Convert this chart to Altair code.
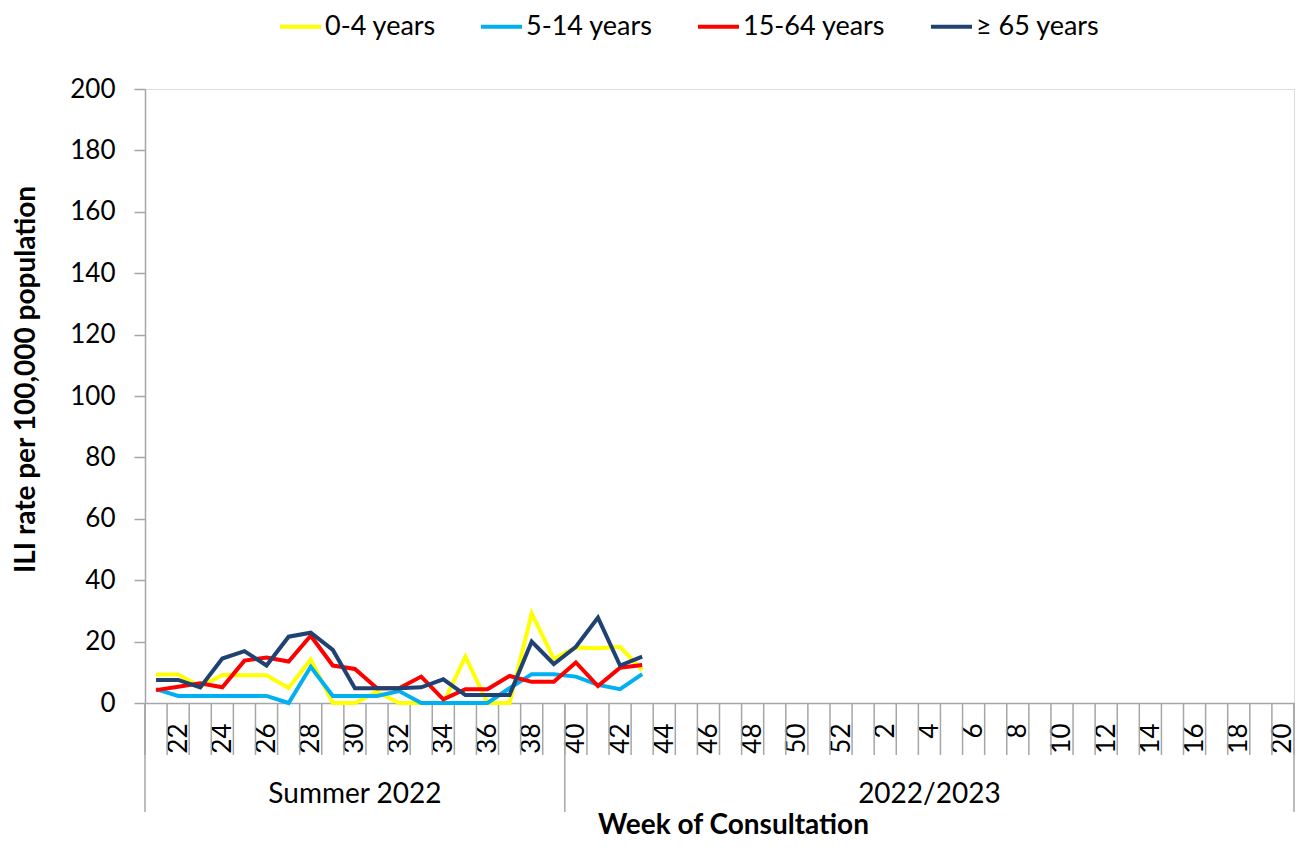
import altair as alt
import pandas as pd

weeks = list(range(21, 53)) + list(range(1, 21))
groups = ["Summer 2022", "2022/2023"]
group_bounds = [0, 19, 52]

series_names = ["0-4 years", "5-14 years", "15-64 years", "\u2265 65 years"]
colors = ["#FFFF00", "#00B0F0", "#FF0000", "#1F4272"]

# values from week 21 to week 43
v_0_4 = [9.3, 9.3, 5.3, 9.1, 9.0, 9.0, 4.9, 14.2, 0.0, 0.0, 3.7, 0.0, 0.0, 0.0, 15.1, 0.0, 0.0, 29.2, 14.4, 18.1, 17.8, 18.3, 10.7]
v_5_14 = [4.5, 2.3, 2.3, 2.3, 2.3, 2.3, 0.0, 11.8, 2.3, 2.3, 2.3, 3.9, 0.0, 0.0, 0.0, 0.0, 4.8, 9.4, 9.4, 8.6, 5.9, 4.5, 9.4]
v_15_64 = [4.2, 5.3, 6.4, 5.1, 13.8, 14.8, 13.5, 21.9, 12.2, 11.1, 4.8, 4.8, 8.6, 1.2, 4.5, 4.5, 8.8, 6.9, 6.9, 13.2, 5.5, 11.5, 12.4]
v_65 = [7.5, 7.5, 5.1, 14.5, 16.9, 12.2, 21.6, 22.9, 17.3, 4.8, 4.8, 4.8, 5.1, 7.7, 2.6, 2.6, 2.6, 20.0, 12.7, 18.3, 27.8, 12.2, 15.1]

FONT = "Lato"
W, H = 1149, 614
GRAY = "#A6A6A6"

rows = []
for name, vals in zip(series_names, [v_0_4, v_5_14, v_15_64, v_65]):
    for i, v in enumerate(vals):
        rows.append({"pos": i + 0.5, "week": weeks[i], "value": v, "series": name})
df = pd.DataFrame(rows)

label_vals = [i + 0.5 for i, w in enumerate(weeks) if w % 2 == 0]
label_map = ",".join("'%s':'%d'" % (repr(i + 0.5), w) for i, w in enumerate(weeks) if w % 2 == 0)
label_expr = "{" + label_map + "}[''+datum.value]"

xscale = alt.Scale(domain=[0, len(weeks)], nice=False, zero=False)

lines = alt.Chart(df).mark_line(strokeWidth=4, strokeJoin="miter").encode(
    x=alt.X("pos:Q", scale=xscale,
            axis=alt.Axis(values=label_vals, labelExpr=label_expr, labelAngle=270,
                          labelFontSize=26, labelFont=FONT, labelColor="#000000",
                          labelPadding=20, ticks=False, grid=False, domainColor=GRAY,
                          domainWidth=1.5, labelOverlap=False,
                          title="Week of Consultation", titleFont=FONT, titleFontSize=28,
                          titleFontWeight="bold", titleColor="#000000", titleY=122,
                          titleX=588, titleAlign="center", titleBaseline="middle")),
    y=alt.Y("value:Q", scale=alt.Scale(domain=[0, 200], nice=False),
            axis=alt.Axis(values=list(range(0, 201, 20)), grid=False, tickSize=11,
                          tickColor=GRAY, tickWidth=1.5, domainColor=GRAY, domainWidth=1.5,
                          labelFontSize=26, labelFont=FONT, labelColor="#000000", labelPadding=19,
                          title="ILI rate per 100,000 population", titleFont=FONT,
                          titleFontSize=28, titleFontWeight="bold", titleColor="#000000",
                          titleAngle=270, titleX=-119, titleY=290, titleAlign="center",
                          titleBaseline="middle")),
    color=alt.Color("series:N", scale=alt.Scale(domain=series_names, range=colors),
                    legend=alt.Legend(orient="none", legendX=133, legendY=-85,
                                      direction="horizontal", title=None,
                                      symbolType="stroke", symbolSize=1681,
                                      symbolStrokeWidth=4, labelFontSize=27, labelFont=FONT,
                                      labelColor="#000000", labelOffset=2, columnPadding=37)),
    order=alt.Order("pos:Q"),
)

bounds_df = pd.DataFrame({"b": list(range(len(weeks) + 1))})
ticks = alt.Chart(bounds_df).mark_rule(color=GRAY, strokeWidth=1.5).encode(
    x=alt.X("b:Q", scale=xscale),
    y=alt.value(H), y2=alt.value(H + 52),
)

sep_df = pd.DataFrame({"b": group_bounds})
seps = alt.Chart(sep_df).mark_rule(color=GRAY, strokeWidth=1.5).encode(
    x=alt.X("b:Q", scale=xscale),
    y=alt.value(H), y2=alt.value(H + 109),
)

grp_df = pd.DataFrame({
    "mid": [(group_bounds[i] + group_bounds[i + 1]) / 2 for i in range(len(groups))],
    "name": groups,
})
grp_text = alt.Chart(grp_df).mark_text(fontSize=28, font=FONT, color="#000000",
                                        baseline="middle").encode(
    x=alt.X("mid:Q", scale=xscale),
    y=alt.value(H + 92),
    text="name:N",
)

chart = alt.layer(ticks, seps, lines, grp_text).properties(
    width=W, height=H,
    autosize=alt.AutoSizeParams(type="none"),
    padding={"left": 137, "top": 81, "right": 4, "bottom": 138},
).configure_view(stroke=None).configure(background="#FFFFFF")

chart.save("out.html", embed_options={"renderer": "svg", "actions": False})
